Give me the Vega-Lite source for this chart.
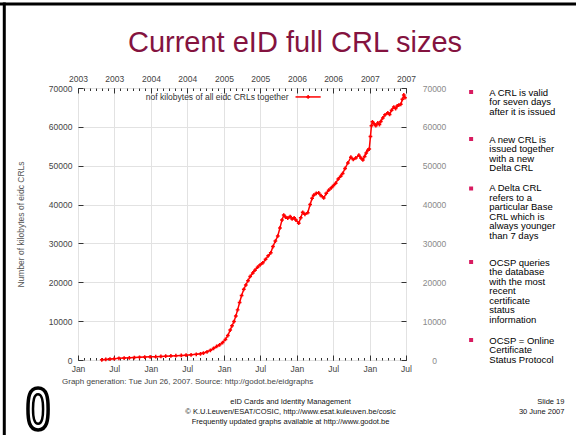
{
  "$schema": "https://vega.github.io/schema/vega-lite/v6.json",
  "autosize": {"type": "none"},
  "width": 328,
  "height": 272,
  "padding": {"left": 78, "top": 88, "right": 170, "bottom": 75},
  "background": "white",
  "title": {"text": "Current eID full CRL sizes", "font": "Liberation Sans", "fontSize": 29, "fontWeight": "normal", "color": "#84133f", "anchor": "middle", "frame": "group", "dx": 53, "offset": -56.5},
  "data": {"values": [{}]},
  "datasets": {
    "crl": [
      {"date": "2003-04-30", "kb": 50}, {"date": "2003-05-20", "kb": 150}, {"date": "2003-06-10", "kb": 250},
      {"date": "2003-07-01", "kb": 330}, {"date": "2003-07-25", "kb": 420}, {"date": "2003-08-20", "kb": 500},
      {"date": "2003-09-15", "kb": 560}, {"date": "2003-10-10", "kb": 620}, {"date": "2003-11-05", "kb": 690},
      {"date": "2003-12-01", "kb": 750}, {"date": "2003-12-28", "kb": 810}, {"date": "2004-01-25", "kb": 860},
      {"date": "2004-02-20", "kb": 920}, {"date": "2004-03-15", "kb": 980}, {"date": "2004-04-10", "kb": 1040},
      {"date": "2004-05-05", "kb": 1100}, {"date": "2004-06-01", "kb": 1160}, {"date": "2004-06-25", "kb": 1230},
      {"date": "2004-07-20", "kb": 1330}, {"date": "2004-08-15", "kb": 1450}, {"date": "2004-09-05", "kb": 1600},
      {"date": "2004-09-20", "kb": 1800}, {"date": "2004-10-08", "kb": 2100}, {"date": "2004-10-25", "kb": 2500},
      {"date": "2004-11-10", "kb": 3000}, {"date": "2004-11-25", "kb": 3500}, {"date": "2004-12-10", "kb": 3900},
      {"date": "2004-12-25", "kb": 4500}, {"date": "2005-01-08", "kb": 5300}, {"date": "2005-01-20", "kb": 6300},
      {"date": "2005-02-01", "kb": 7700}, {"date": "2005-02-10", "kb": 8800}, {"date": "2005-02-20", "kb": 9900},
      {"date": "2005-03-01", "kb": 11300}, {"date": "2005-03-10", "kb": 12900}, {"date": "2005-03-20", "kb": 14800},
      {"date": "2005-03-30", "kb": 16600}, {"date": "2005-04-10", "kb": 18200}, {"date": "2005-04-20", "kb": 19300},
      {"date": "2005-05-01", "kb": 20400}, {"date": "2005-05-12", "kb": 21500}, {"date": "2005-05-25", "kb": 22400},
      {"date": "2005-06-05", "kb": 23100}, {"date": "2005-06-18", "kb": 23900}, {"date": "2005-07-01", "kb": 24500},
      {"date": "2005-07-14", "kb": 25000}, {"date": "2005-07-28", "kb": 25900}, {"date": "2005-08-10", "kb": 26800},
      {"date": "2005-08-23", "kb": 27600}, {"date": "2005-09-03", "kb": 29200}, {"date": "2005-09-15", "kb": 30600},
      {"date": "2005-09-27", "kb": 31900}, {"date": "2005-10-08", "kb": 34000}, {"date": "2005-10-18", "kb": 36000},
      {"date": "2005-10-27", "kb": 37300}, {"date": "2005-11-05", "kb": 36800}, {"date": "2005-11-16", "kb": 36500},
      {"date": "2005-11-28", "kb": 36900}, {"date": "2005-12-08", "kb": 36300}, {"date": "2005-12-18", "kb": 36600},
      {"date": "2005-12-27", "kb": 36000}, {"date": "2006-01-10", "kb": 35200}, {"date": "2006-01-20", "kb": 36600},
      {"date": "2006-01-30", "kb": 38000}, {"date": "2006-02-10", "kb": 37500}, {"date": "2006-02-24", "kb": 37900},
      {"date": "2006-03-08", "kb": 40000}, {"date": "2006-03-18", "kb": 41600}, {"date": "2006-03-26", "kb": 42400},
      {"date": "2006-04-08", "kb": 42900}, {"date": "2006-04-20", "kb": 43000}, {"date": "2006-05-02", "kb": 42300},
      {"date": "2006-05-15", "kb": 41700}, {"date": "2006-05-28", "kb": 42900}, {"date": "2006-06-09", "kb": 43700},
      {"date": "2006-06-22", "kb": 44300}, {"date": "2006-07-03", "kb": 44900}, {"date": "2006-07-14", "kb": 45500},
      {"date": "2006-07-27", "kb": 46600}, {"date": "2006-08-08", "kb": 47300}, {"date": "2006-08-18", "kb": 48000},
      {"date": "2006-08-30", "kb": 49300}, {"date": "2006-09-13", "kb": 50700}, {"date": "2006-09-28", "kb": 52200},
      {"date": "2006-10-10", "kb": 51600}, {"date": "2006-10-23", "kb": 52000}, {"date": "2006-11-07", "kb": 52700},
      {"date": "2006-11-17", "kb": 52000}, {"date": "2006-11-27", "kb": 51500}, {"date": "2006-12-06", "kb": 52400},
      {"date": "2006-12-14", "kb": 53300}, {"date": "2006-12-22", "kb": 54000}, {"date": "2006-12-29", "kb": 54300},
      {"date": "2007-01-04", "kb": 57500}, {"date": "2007-01-09", "kb": 60300}, {"date": "2007-01-14", "kb": 61300},
      {"date": "2007-01-22", "kb": 60800}, {"date": "2007-01-31", "kb": 60300}, {"date": "2007-02-10", "kb": 61000},
      {"date": "2007-02-18", "kb": 60600}, {"date": "2007-02-25", "kb": 61400}, {"date": "2007-03-07", "kb": 62300},
      {"date": "2007-03-18", "kb": 63100}, {"date": "2007-04-01", "kb": 63600}, {"date": "2007-04-10", "kb": 63200},
      {"date": "2007-04-20", "kb": 64300}, {"date": "2007-05-01", "kb": 65100}, {"date": "2007-05-10", "kb": 64700},
      {"date": "2007-05-18", "kb": 65400}, {"date": "2007-05-26", "kb": 65600}, {"date": "2007-06-05", "kb": 65800},
      {"date": "2007-06-13", "kb": 67100}, {"date": "2007-06-20", "kb": 68200}, {"date": "2007-06-26", "kb": 67500}
    ]
  },
  "config": {
    "font": "Liberation Sans",
    "view": {"stroke": "#333333", "strokeWidth": 1},
    "axis": {"labelFont": "Liberation Sans", "labelFontSize": 8.5, "labelColor": "#444444", "tickColor": "#333333", "domain": false, "labelFlush": false, "labelOverlap": false, "labelBound": false, "gridColor": "#e2e2e2", "gridWidth": 1}
  },
  "resolve": {"axis": {"x": "independent", "y": "independent"}},
  "layer": [
    {
      "data": {"name": "crl"},
      "mark": {"type": "line", "color": "#ff0000", "strokeWidth": 1.5},
      "encoding": {
        "x": {"field": "date", "type": "temporal",
              "scale": {"type": "utc", "domain": [{"year": 2003, "month": 1, "date": 1, "utc": true}, {"year": 2007, "month": 7, "date": 1, "utc": true}], "nice": false},
              "axis": {"orient": "bottom", "format": "%b", "tickCount": {"interval": "month", "step": 6}, "grid": true, "tickSize": -5, "labelPadding": 9, "title": null}},
        "y": {"field": "kb", "type": "quantitative",
              "scale": {"domain": [0, 70000], "nice": false},
              "axis": {"orient": "left", "values": [0, 10000, 20000, 30000, 40000, 50000, 60000, 70000], "format": "d", "grid": true, "tickSize": -5, "labelPadding": 11,
                       "title": "Number of kilobytes of eidc CRLs", "titleFont": "Liberation Sans", "titleFontSize": 8.5, "titleFontWeight": "normal", "titleColor": "#555555", "titlePadding": 23}}
      }
    },
    {
      "data": {"name": "crl"},
      "mark": {"type": "point", "shape": "cross", "filled": true, "size": 14, "color": "#ff0000", "opacity": 1},
      "encoding": {
        "x": {"field": "date", "type": "temporal",
              "axis": {"orient": "top", "format": "%Y", "tickCount": {"interval": "month", "step": 6}, "grid": false, "tickSize": -5, "labelPadding": 10, "title": null}},
        "y": {"field": "kb", "type": "quantitative",
              "axis": {"orient": "right", "values": [0, 10000, 20000, 30000, 40000, 50000, 60000, 70000], "format": "d", "grid": false, "tickSize": -5, "labelPadding": 33, "labelAlign": "center", "labelColor": "#8a8a8a", "title": null}}
      }
    },
    {
      "data": {"name": "crl"},
      "mark": {"type": "point", "opacity": 0},
      "encoding": {
        "x": {"field": "date", "type": "temporal",
              "axis": {"orient": "bottom", "labels": false, "grid": false, "tickSize": -2.5, "tickCount": {"interval": "month", "step": 1}, "title": null}},
        "y": {"field": "kb", "type": "quantitative", "axis": null}
      }
    },
    {
      "data": {"name": "crl"},
      "mark": {"type": "point", "opacity": 0},
      "encoding": {
        "x": {"field": "date", "type": "temporal",
              "axis": {"orient": "top", "labels": false, "grid": false, "tickSize": -2.5, "tickCount": {"interval": "month", "step": 1}, "title": null}},
        "y": {"field": "kb", "type": "quantitative", "axis": null}
      }
    },
    {
      "mark": {"type": "text", "text": "nof kilobytes of all eidc CRLs together", "align": "right", "baseline": "middle", "fontSize": 8.5, "color": "#333333"},
      "encoding": {"x": {"datum": {"year": 2005, "month": 11, "date": 20, "utc": true}, "type": "temporal", "axis": null}, "y": {"datum": 67700, "type": "quantitative", "axis": null}}
    },
    {
      "mark": {"type": "rule", "color": "#ff0000", "strokeWidth": 1.5},
      "encoding": {"x": {"datum": {"year": 2005, "month": 12, "date": 25, "utc": true}, "type": "temporal", "axis": null}, "x2": {"datum": {"year": 2006, "month": 4, "date": 30, "utc": true}}, "y": {"datum": 67700, "type": "quantitative", "axis": null}}
    },
    {
      "mark": {"type": "point", "shape": "cross", "filled": true, "size": 14, "color": "#ff0000", "opacity": 1},
      "encoding": {"x": {"datum": {"year": 2006, "month": 2, "date": 26, "utc": true}, "type": "temporal", "axis": null}, "y": {"datum": 67700, "type": "quantitative", "axis": null}}
    },
    {
      "mark": {"type": "text", "text": "Graph generation: Tue Jun 26, 2007. Source: http://godot.be/eidgraphs", "align": "left", "baseline": "middle", "fontSize": 8, "color": "#444444"},
      "encoding": {"x": {"datum": {"year": 2002, "month": 10, "date": 13, "utc": true}, "type": "temporal", "axis": null}, "y": {"datum": -5662, "type": "quantitative", "axis": null}}
    },
    {
      "mark": {"type": "point", "shape": "square", "filled": true, "size": 16, "color": "#d81b60", "opacity": 1},
      "encoding": {"x": {"datum": {"year": 2008, "month": 5, "date": 22, "utc": true}, "type": "temporal", "axis": null}, "y": {"datum": 68971, "type": "quantitative", "axis": null}}
    },
    {
      "mark": {"type": "point", "shape": "square", "filled": true, "size": 16, "color": "#d81b60", "opacity": 1},
      "encoding": {"x": {"datum": {"year": 2008, "month": 5, "date": 22, "utc": true}, "type": "temporal", "axis": null}, "y": {"datum": 56875, "type": "quantitative", "axis": null}}
    },
    {
      "mark": {"type": "point", "shape": "square", "filled": true, "size": 16, "color": "#d81b60", "opacity": 1},
      "encoding": {"x": {"datum": {"year": 2008, "month": 5, "date": 22, "utc": true}, "type": "temporal", "axis": null}, "y": {"datum": 44136, "type": "quantitative", "axis": null}}
    },
    {
      "mark": {"type": "point", "shape": "square", "filled": true, "size": 16, "color": "#d81b60", "opacity": 1},
      "encoding": {"x": {"datum": {"year": 2008, "month": 5, "date": 22, "utc": true}, "type": "temporal", "axis": null}, "y": {"datum": 25221, "type": "quantitative", "axis": null}}
    },
    {
      "mark": {"type": "point", "shape": "square", "filled": true, "size": 16, "color": "#d81b60", "opacity": 1},
      "encoding": {"x": {"datum": {"year": 2008, "month": 5, "date": 22, "utc": true}, "type": "temporal", "axis": null}, "y": {"datum": 5147, "type": "quantitative", "axis": null}}
    },
    {
      "mark": {"type": "text", "text": ["A CRL is valid", "for seven days", "after it is issued"], "align": "left", "baseline": "top", "fontSize": 9.5, "lineHeight": 9.5, "color": "#000000"},
      "encoding": {"x": {"datum": {"year": 2008, "month": 8, "date": 21, "utc": true}, "type": "temporal", "axis": null}, "y": {"datum": 70026, "type": "quantitative", "axis": null}}
    },
    {
      "mark": {"type": "text", "text": ["A new CRL is", "issued together", "with a new", "Delta CRL"], "align": "left", "baseline": "top", "fontSize": 9.5, "lineHeight": 9.5, "color": "#000000"},
      "encoding": {"x": {"datum": {"year": 2008, "month": 8, "date": 21, "utc": true}, "type": "temporal", "axis": null}, "y": {"datum": 57930, "type": "quantitative", "axis": null}}
    },
    {
      "mark": {"type": "text", "text": ["A Delta CRL", "refers to a", "particular Base", "CRL which is", "always younger", "than 7 days"], "align": "left", "baseline": "top", "fontSize": 9.5, "lineHeight": 9.5, "color": "#000000"},
      "encoding": {"x": {"datum": {"year": 2008, "month": 8, "date": 21, "utc": true}, "type": "temporal", "axis": null}, "y": {"datum": 45448, "type": "quantitative", "axis": null}}
    },
    {
      "mark": {"type": "text", "text": ["OCSP queries", "the database", "with the most", "recent", "certificate", "status", "information"], "align": "left", "baseline": "top", "fontSize": 9.5, "lineHeight": 9.5, "color": "#000000"},
      "encoding": {"x": {"datum": {"year": 2008, "month": 8, "date": 21, "utc": true}, "type": "temporal", "axis": null}, "y": {"datum": 26276, "type": "quantitative", "axis": null}}
    },
    {
      "mark": {"type": "text", "text": ["OCSP = Online", "Certificate", "Status Protocol"], "align": "left", "baseline": "top", "fontSize": 9.5, "lineHeight": 9.5, "color": "#000000"},
      "encoding": {"x": {"datum": {"year": 2008, "month": 8, "date": 21, "utc": true}, "type": "temporal", "axis": null}, "y": {"datum": 6202, "type": "quantitative", "axis": null}}
    },
    {
      "mark": {"type": "text", "text": ["eID Cards and Identity Management", "© K.U.Leuven/ESAT/COSIC, http://www.esat.kuleuven.be/cosic", "Frequently updated graphs available at http://www.godot.be"], "align": "center", "baseline": "top", "fontSize": 7.5, "lineHeight": 10, "color": "#111111"},
      "encoding": {"x": {"datum": {"year": 2005, "month": 11, "date": 30, "utc": true}, "type": "temporal", "axis": null}, "y": {"datum": -9702, "type": "quantitative", "axis": null}}
    },
    {
      "mark": {"type": "text", "text": ["Slide 19", "30 June 2007"], "align": "right", "baseline": "top", "fontSize": 7.5, "lineHeight": 10, "color": "#111111"},
      "encoding": {"x": {"datum": {"year": 2009, "month": 9, "date": 1, "utc": true}, "type": "temporal", "axis": null}, "y": {"datum": -9702, "type": "quantitative", "axis": null}}
    },
    {
      "mark": {"type": "point", "shape": "M0,-1 C0.44,-1 0.48,-0.5 0.48,0 C0.48,0.5 0.44,1 0,1 C-0.44,1 -0.48,0.5 -0.48,0 C-0.48,-0.5 -0.44,-1 0,-1 Z", "filled": false, "size": 1764, "stroke": "#000000", "strokeWidth": 3.5, "opacity": 1},
      "encoding": {"x": {"datum": {"year": 2002, "month": 6, "date": 15, "utc": true}, "type": "temporal", "axis": null}, "y": {"datum": -12600, "type": "quantitative", "axis": null}}
    },
    {
      "mark": {"type": "point", "shape": "M0,-0.7 C0.2,-0.7 0.24,-0.35 0.24,0 C0.24,0.35 0.2,0.7 0,0.7 C-0.2,0.7 -0.24,0.35 -0.24,0 C-0.24,-0.35 -0.2,-0.7 0,-0.7 Z", "filled": false, "size": 1764, "stroke": "#000000", "strokeWidth": 2.5, "opacity": 1},
      "encoding": {"x": {"datum": {"year": 2002, "month": 6, "date": 15, "utc": true}, "type": "temporal", "axis": null}, "y": {"datum": -12600, "type": "quantitative", "axis": null}}
    },
    {
      "mark": {"type": "rule", "color": "#000000", "strokeWidth": 3},
      "encoding": {"x": {"datum": {"year": 2001, "month": 12, "date": 28, "utc": true}, "type": "temporal", "axis": null}, "y": {"datum": 92000, "type": "quantitative", "axis": null}, "y2": {"datum": -20000}}
    },
    {
      "mark": {"type": "rule", "color": "#000000", "strokeWidth": 3},
      "encoding": {"x": {"datum": {"year": 2001, "month": 12, "date": 1, "utc": true}, "type": "temporal", "axis": null}, "x2": {"datum": {"year": 2010, "month": 1, "date": 1, "utc": true}}, "y": {"datum": 91617, "type": "quantitative", "axis": null}}
    }
  ]
}
